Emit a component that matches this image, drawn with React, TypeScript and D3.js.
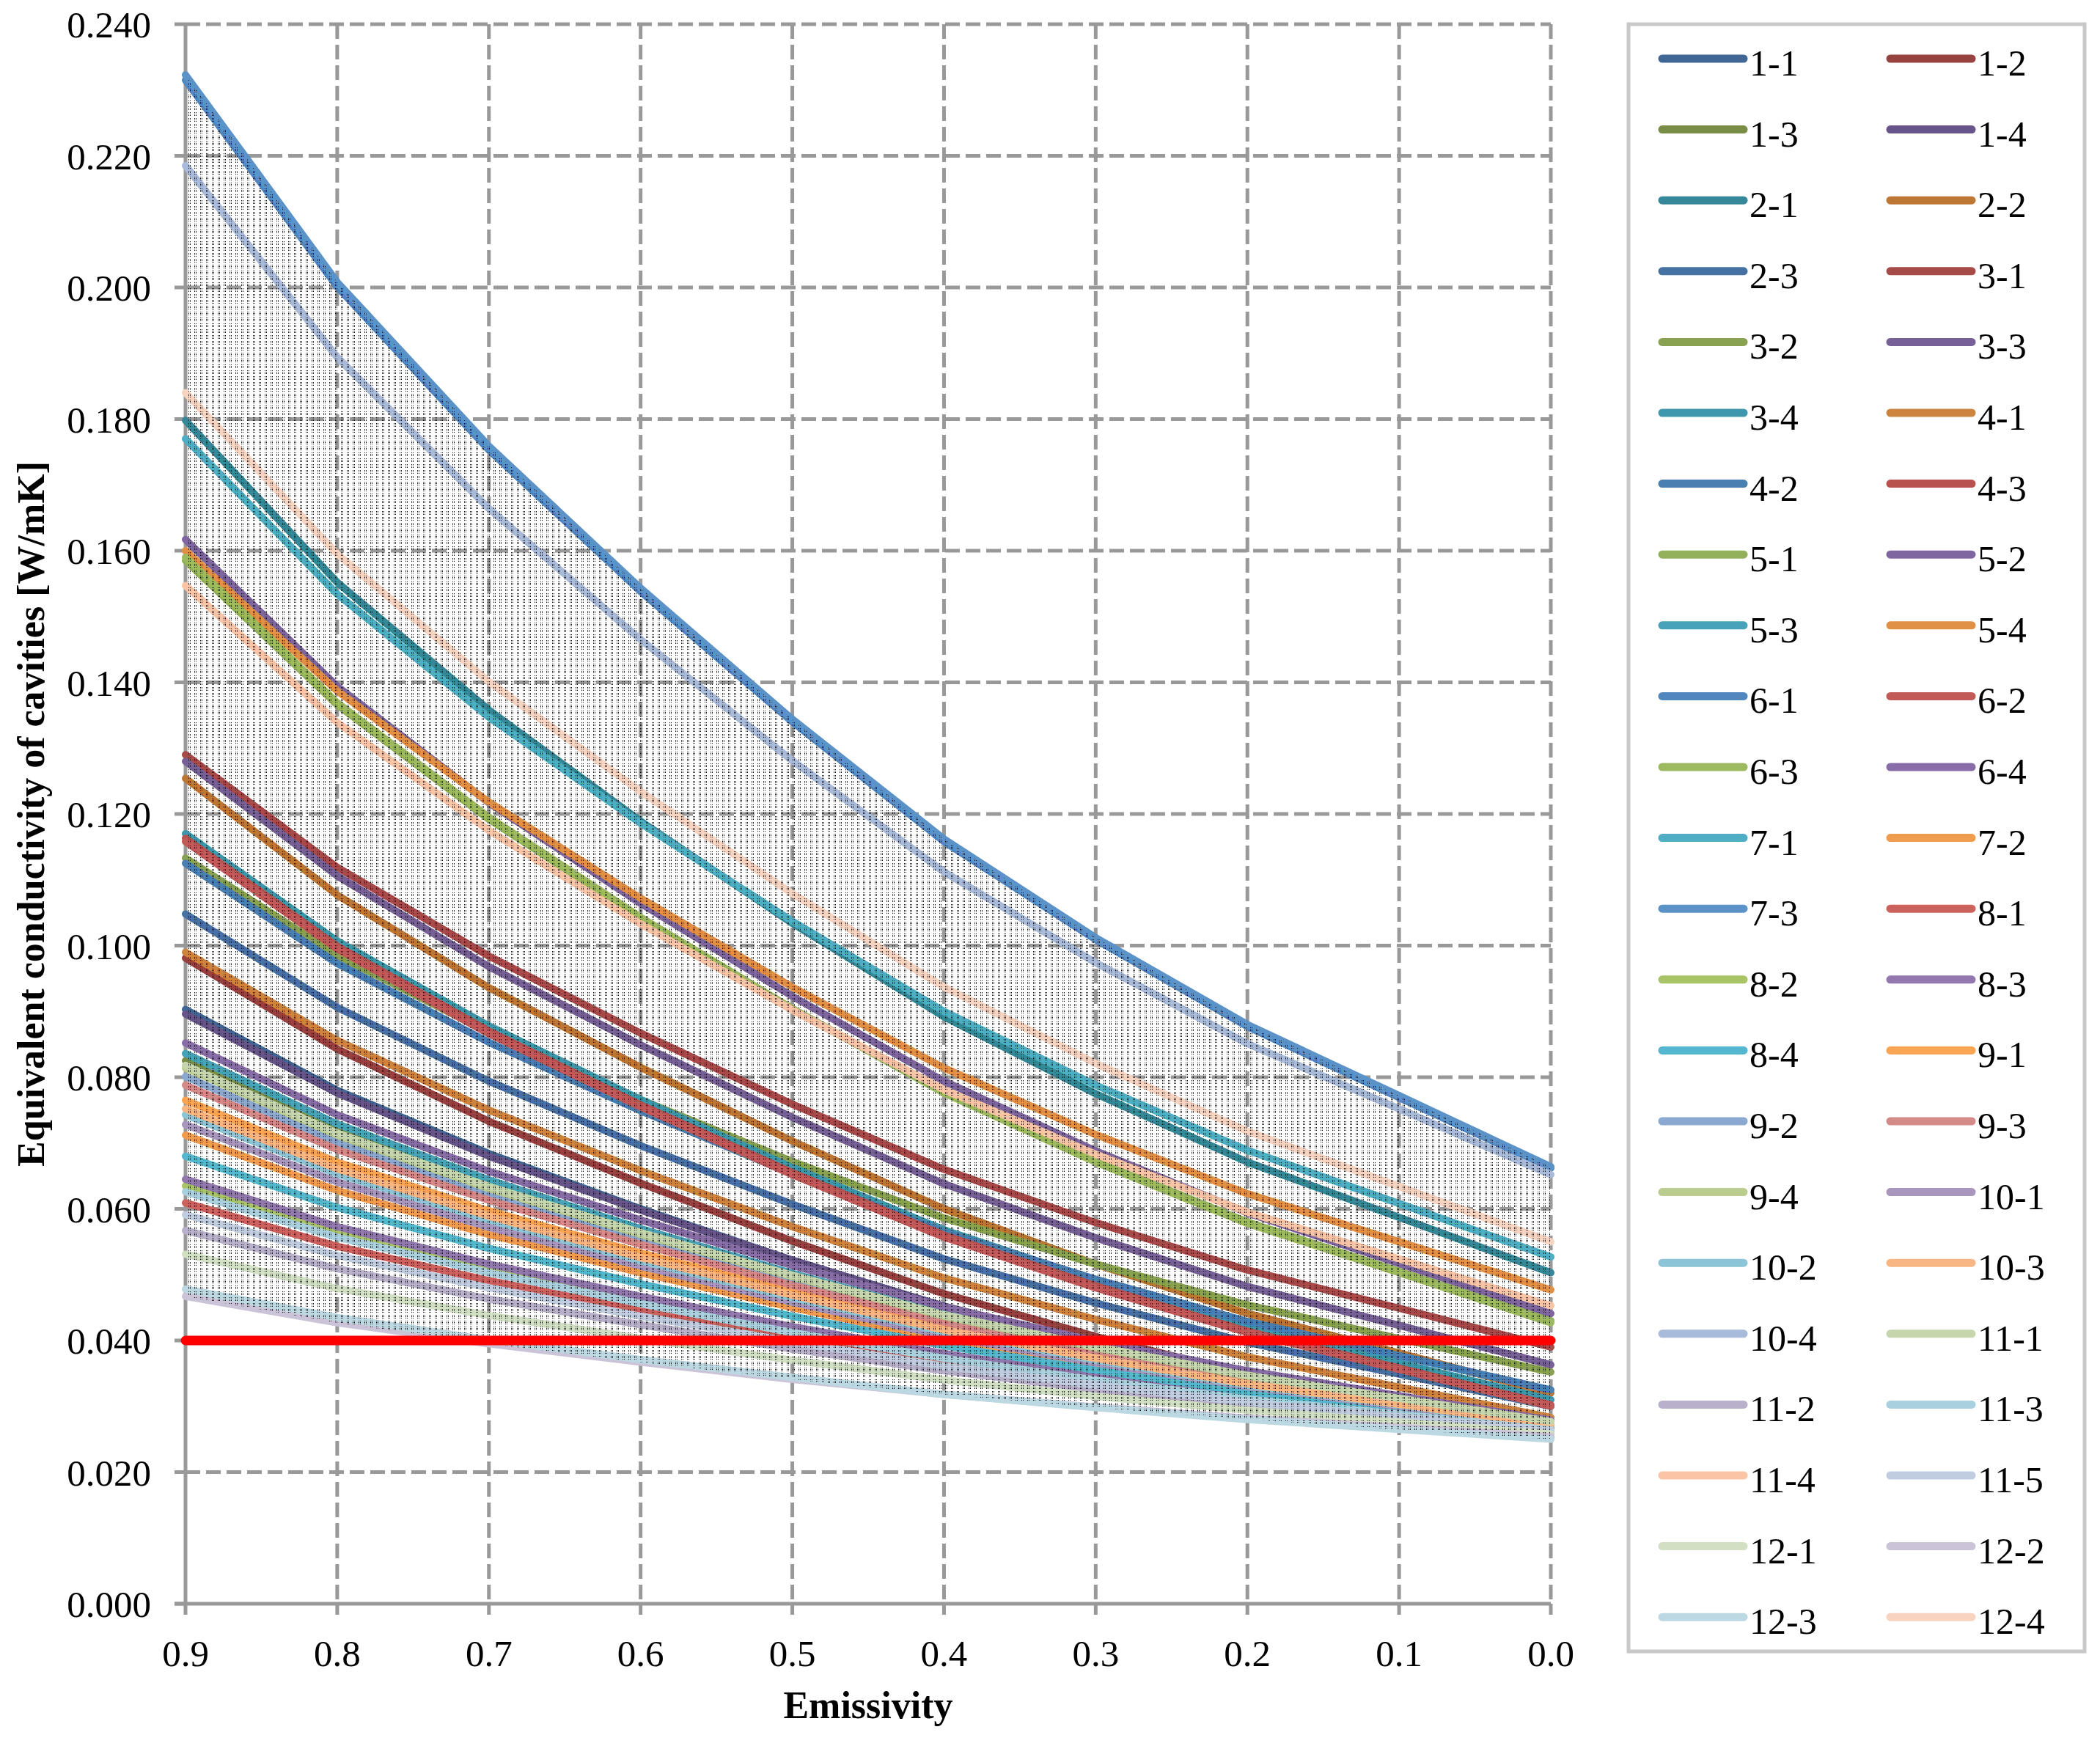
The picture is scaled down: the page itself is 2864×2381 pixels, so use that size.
import * as d3 from 'd3'

// emissivity steps, read left to right as on the axis
const emissivity = [0.9, 0.8, 0.7, 0.6, 0.5, 0.4, 0.3, 0.2, 0.1, 0.0]
const yTicks = [0, 0.02, 0.04, 0.06, 0.08, 0.1, 0.12, 0.14, 0.16, 0.18, 0.2, 0.22, 0.24]
const limitValue = 0.04

const seriesNames = [
  '1-1', '1-2', '1-3', '1-4', '2-1', '2-2', '2-3', '3-1', '3-2', '3-3', '3-4', '4-1',
  '4-2', '4-3', '5-1', '5-2', '5-3', '5-4', '6-1', '6-2', '6-3', '6-4', '7-1', '7-2',
  '7-3', '8-1', '8-2', '8-3', '8-4', '9-1', '9-2', '9-3', '9-4', '10-1', '10-2', '10-3',
  '10-4', '11-1', '11-2', '11-3', '11-4', '11-5', '12-1', '12-2', '12-3', '12-4',
]

const seriesColors = [
  '#3f6694', '#96423f', '#7a8d47', '#66548a', '#37879b', '#bd7734', '#4572a2', '#a64b47',
  '#89a252', '#775f97', '#3e97ad', '#cd843e', '#4a7fb1', '#b7524f', '#93b05a', '#8066a0',
  '#48a3ba', '#e19145', '#5087bf', '#c15b57', '#9eba61', '#896da8', '#4faec6', '#f09c4e',
  '#5b92c8', '#cc625c', '#a8c466', '#9278af', '#55b6cf', '#f9a553', '#8ba9d0', '#d48b88',
  '#bacd8f', '#a896be', '#8bc5d7', '#f9b685', '#a9bbda', '#c6d6ac', '#b9b0cb', '#a9d0df',
  '#fbc4a4', '#c0cde1', '#d1dfc2', '#cbc4d9', '#bcd9e3', '#f8d3bf',
]

const k1_1 = [0.0903, 0.078, 0.0684, 0.06, 0.0522, 0.0452, 0.0393, 0.0342, 0.03, 0.0258]
const k1_2 = [0.0981, 0.0843, 0.0733, 0.0639, 0.0551, 0.0471, 0.0406, 0.0348, 0.03, 0.0253]
const k1_3 = [0.0825, 0.0721, 0.0638, 0.0567, 0.0501, 0.044, 0.0391, 0.0347, 0.0311, 0.0275]
const k1_4 = [0.0896, 0.0776, 0.068, 0.0598, 0.0522, 0.0452, 0.0395, 0.0344, 0.0303, 0.0262]
const k2_1 = [0.1798, 0.1552, 0.1358, 0.1189, 0.1034, 0.0892, 0.0775, 0.0671, 0.0587, 0.0503]
const k2_2 = [0.1254, 0.1077, 0.0936, 0.0815, 0.0703, 0.06, 0.0516, 0.0441, 0.0381, 0.032]
const k2_3 = [0.1048, 0.0906, 0.0794, 0.0696, 0.0607, 0.0524, 0.0457, 0.0397, 0.0349, 0.03]
const k3_1 = [0.129, 0.1119, 0.0984, 0.0867, 0.0759, 0.066, 0.0579, 0.0507, 0.0449, 0.039]
const k3_2 = [0.1133, 0.0985, 0.0868, 0.0766, 0.0672, 0.0586, 0.0516, 0.0454, 0.0403, 0.0352]
const k3_3 = [0.128, 0.1106, 0.0968, 0.0849, 0.0739, 0.0638, 0.0556, 0.0482, 0.0423, 0.0363]
const k3_4 = [0.117, 0.1007, 0.0878, 0.0766, 0.0663, 0.0568, 0.0491, 0.0422, 0.0366, 0.031]
const k4_1 = [0.099, 0.0856, 0.075, 0.0658, 0.0573, 0.0495, 0.0432, 0.0375, 0.0329, 0.0283]
const k4_2 = [0.1125, 0.0973, 0.0853, 0.0749, 0.0653, 0.0565, 0.0493, 0.0429, 0.0377, 0.0325]
const k4_3 = [0.1163, 0.0999, 0.087, 0.0758, 0.0655, 0.056, 0.0483, 0.0414, 0.0358, 0.0302]
const k5_1 = [0.1585, 0.1366, 0.1192, 0.1042, 0.0904, 0.0777, 0.0673, 0.058, 0.0505, 0.043]
const k5_2 = [0.1617, 0.1394, 0.1217, 0.1064, 0.0923, 0.0794, 0.0688, 0.0594, 0.0517, 0.0441]
const k5_3 = [0.0836, 0.0729, 0.0644, 0.057, 0.0502, 0.044, 0.0389, 0.0344, 0.0307, 0.027]
const k5_4 = [0.16, 0.1387, 0.1218, 0.1072, 0.0937, 0.0814, 0.0713, 0.0623, 0.055, 0.0477]
const k6_1 = [0.2315, 0.2001, 0.1753, 0.1538, 0.134, 0.1158, 0.1009, 0.0877, 0.0769, 0.0662]
const k6_2 = [0.1158, 0.0995, 0.0866, 0.0755, 0.0652, 0.0557, 0.048, 0.0412, 0.0356, 0.03]
const k6_3 = [0.159, 0.1369, 0.1195, 0.1043, 0.0904, 0.0776, 0.0671, 0.0578, 0.0503, 0.0427]
const k6_4 = [0.0852, 0.0743, 0.0657, 0.0583, 0.0514, 0.0451, 0.0399, 0.0354, 0.0316, 0.0279]
const k7_1 = [0.177, 0.1534, 0.1347, 0.1186, 0.1037, 0.09, 0.0788, 0.0689, 0.0608, 0.0527]
const k7_2 = [0.0712, 0.0628, 0.0561, 0.0503, 0.045, 0.0401, 0.0361, 0.0326, 0.0297, 0.0268]
const k7_3 = [0.2323, 0.2008, 0.1759, 0.1543, 0.1344, 0.1162, 0.1012, 0.088, 0.0772, 0.0664]
const k8_1 = [0.0609, 0.0543, 0.0491, 0.0446, 0.0404, 0.0366, 0.0335, 0.0307, 0.0285, 0.0262]
const k8_2 = [0.0635, 0.0565, 0.0509, 0.0461, 0.0417, 0.0376, 0.0343, 0.0313, 0.0289, 0.0265]
const k8_3 = [0.0645, 0.0573, 0.0516, 0.0467, 0.0421, 0.038, 0.0346, 0.0315, 0.0291, 0.0266]
const k8_4 = [0.068, 0.0602, 0.054, 0.0486, 0.0437, 0.0392, 0.0355, 0.0322, 0.0295, 0.0268]
const k9_1 = [0.0765, 0.0671, 0.0597, 0.0533, 0.0474, 0.042, 0.0376, 0.0336, 0.0304, 0.0272]
const k9_2 = [0.0801, 0.0701, 0.0622, 0.0554, 0.0491, 0.0433, 0.0386, 0.0343, 0.0309, 0.0275]
const k9_3 = [0.0788, 0.069, 0.0613, 0.0546, 0.0484, 0.0428, 0.0381, 0.034, 0.0307, 0.0273]
const k9_4 = [0.0814, 0.0712, 0.0631, 0.0561, 0.0497, 0.0437, 0.0389, 0.0346, 0.0311, 0.0276]
const k10_1 = [0.0728, 0.0641, 0.0572, 0.0513, 0.0458, 0.0407, 0.0366, 0.033, 0.03, 0.027]
const k10_2 = [0.0743, 0.0653, 0.0583, 0.0521, 0.0465, 0.0413, 0.037, 0.0332, 0.0302, 0.0271]
const k10_3 = [0.0752, 0.0661, 0.0589, 0.0526, 0.0469, 0.0416, 0.0373, 0.0334, 0.0303, 0.0272]
const k10_4 = [0.2185, 0.1894, 0.1664, 0.1465, 0.1281, 0.1112, 0.0974, 0.0851, 0.0752, 0.0652]
const k11_1 = [0.0818, 0.0715, 0.0634, 0.0564, 0.0499, 0.0439, 0.0391, 0.0347, 0.0312, 0.0277]
const k11_2 = [0.0567, 0.0509, 0.0463, 0.0424, 0.0387, 0.0354, 0.0326, 0.0302, 0.0282, 0.0262]
const k11_3 = [0.0626, 0.0557, 0.0503, 0.0456, 0.0412, 0.0373, 0.034, 0.0311, 0.0288, 0.0264]
const k11_4 = [0.1547, 0.1339, 0.1175, 0.1033, 0.0902, 0.0781, 0.0683, 0.0595, 0.0524, 0.0453]
const k11_5 = [0.0591, 0.0529, 0.048, 0.0437, 0.0398, 0.0361, 0.0332, 0.0306, 0.0284, 0.0263]
const k12_1 = [0.0531, 0.0479, 0.0438, 0.0403, 0.037, 0.034, 0.0315, 0.0294, 0.0276, 0.0258]
const k12_2 = [0.0467, 0.0427, 0.0395, 0.0367, 0.0341, 0.0318, 0.0299, 0.0282, 0.0268, 0.0254]
const k12_3 = [0.0478, 0.0435, 0.0401, 0.0371, 0.0344, 0.0318, 0.0298, 0.028, 0.0265, 0.025]
const k12_4 = [0.184, 0.1595, 0.1401, 0.1234, 0.1079, 0.0937, 0.0821, 0.0718, 0.0634, 0.055]

const seriesValues = [
  k1_1, k1_2, k1_3, k1_4, k2_1, k2_2, k2_3, k3_1, k3_2, k3_3, k3_4, k4_1,
  k4_2, k4_3, k5_1, k5_2, k5_3, k5_4, k6_1, k6_2, k6_3, k6_4, k7_1, k7_2,
  k7_3, k8_1, k8_2, k8_3, k8_4, k9_1, k9_2, k9_3, k9_4, k10_1, k10_2, k10_3,
  k10_4, k11_1, k11_2, k11_3, k11_4, k11_5, k12_1, k12_2, k12_3, k12_4,
]

const width = 2864
const height = 2381
const plotLeft = 253
const plotRight = 2115
const plotTop = 33
const plotBottom = 2187
const serif = '"Liberation Serif", "Times New Roman", serif'
const gridColor = '#999999'

export default function App() {
  const x = d3.scaleLinear().domain([0.9, 0]).range([plotLeft, plotRight])
  const y = d3.scaleLinear().domain([0, 0.24]).range([plotBottom, plotTop])

  const line = d3
    .line<number>()
    .x((_, i) => x(emissivity[i]))
    .y((d) => y(d))

  // shaded band between the lowest and the highest curve
  const band = d3
    .area<number>()
    .x((e) => x(e))
    .y0((_, i) => y(d3.min(seriesValues, (s) => s[i]) as number))
    .y1((_, i) => y(d3.max(seriesValues, (s) => s[i]) as number))

  const xGrid = emissivity.slice(1)
  const yGrid = yTicks.slice(1)

  const legendTop = 80
  const legendStep = 96.6
  const legendCols = [2267, 2578]
  const legendLine = 111

  return (
    <svg
      width={width}
      height={height}
      viewBox={`0 0 ${width} ${height}`}
      style={{ position: 'absolute', left: 0, top: 0, background: '#fff' }}
    >
      <defs>
        <pattern id="band-dots" width="8" height="8" patternUnits="userSpaceOnUse">
          <rect x="1" y="1" width="1" height="1" fill="#000" />
          <rect x="3" y="1" width="1" height="1" fill="#000" />
          <rect x="1" y="3" width="1" height="1" fill="#000" />
          <rect x="3" y="3" width="1" height="1" fill="#000" />
          <rect x="1" y="5" width="1" height="1" fill="#000" />
          <rect x="3" y="5" width="1" height="1" fill="#000" />
        </pattern>
      </defs>

      <rect x={0} y={0} width={width} height={height} fill="#fff" />

      {/* dashed grid */}
      {yGrid.map((t) => (
        <line
          key={`gy-${t}`}
          x1={plotLeft}
          x2={plotRight}
          y1={y(t)}
          y2={y(t)}
          stroke={gridColor}
          strokeWidth={5}
          strokeDasharray="20 8"
        />
      ))}
      {xGrid.map((t) => (
        <line
          key={`gx-${t}`}
          x1={x(t)}
          x2={x(t)}
          y1={plotTop}
          y2={plotBottom}
          stroke={gridColor}
          strokeWidth={5}
          strokeDasharray="20 8"
        />
      ))}

      {/* axes and tick marks */}
      <line x1={plotLeft} x2={plotLeft} y1={plotTop} y2={plotBottom} stroke={gridColor} strokeWidth={5} />
      <line x1={plotLeft - 15} x2={plotRight} y1={plotBottom} y2={plotBottom} stroke={gridColor} strokeWidth={5} />
      {yTicks.map((t) => (
        <line key={`ty-${t}`} x1={plotLeft - 15} x2={plotLeft} y1={y(t)} y2={y(t)} stroke={gridColor} strokeWidth={5} />
      ))}
      {emissivity.map((t) => (
        <line key={`tx-${t}`} x1={x(t)} x2={x(t)} y1={plotBottom} y2={plotBottom + 15} stroke={gridColor} strokeWidth={5} />
      ))}

      {/* tick labels */}
      {yTicks.map((t) => (
        <text
          key={`ly-${t}`}
          x={206}
          y={y(t) + 18}
          textAnchor="end"
          fontFamily={serif}
          fontSize={51}
          fill="#000"
        >
          {d3.format('.3f')(t)}
        </text>
      ))}
      {emissivity.map((t) => (
        <text
          key={`lx-${t}`}
          x={x(t)}
          y={2272}
          textAnchor="middle"
          fontFamily={serif}
          fontSize={51}
          fill="#000"
        >
          {d3.format('.1f')(t)}
        </text>
      ))}

      {/* series */}
      {seriesValues.map((values, i) => (
        <path
          key={seriesNames[i]}
          d={line(values) ?? ''}
          fill="none"
          stroke={seriesColors[i]}
          strokeWidth={10}
          strokeLinejoin="round"
          strokeLinecap="round"
        />
      ))}

      <path d={band(emissivity) ?? ''} fill="url(#band-dots)" stroke="none" />

      <line
        x1={x(emissivity[0])}
        x2={x(emissivity[emissivity.length - 1])}
        y1={y(limitValue)}
        y2={y(limitValue)}
        stroke="#ff0000"
        strokeWidth={13}
        strokeLinecap="round"
      />

      {/* axis titles */}
      <text
        x={(plotLeft + plotRight) / 2}
        y={2343}
        textAnchor="middle"
        fontFamily={serif}
        fontWeight="bold"
        fontSize={52}
        fill="#000"
      >
        Emissivity
      </text>
      <text
        transform={`translate(60, ${(plotTop + plotBottom) / 2}) rotate(-90)`}
        textAnchor="middle"
        fontFamily={serif}
        fontWeight="bold"
        fontSize={52}
        fill="#000"
      >
        Equivalent conductivity of cavities [W/mK]
      </text>

      {/* legend */}
      <rect x={2221} y={33} width={622} height={2219} fill="#fff" stroke="#c8c8c8" strokeWidth={5} />
      {seriesNames.map((name, i) => {
        const col = i % 2
        const row = Math.floor(i / 2)
        const ly = legendTop + row * legendStep
        const lx = legendCols[col]
        return (
          <g key={`leg-${name}`}>
            <line
              x1={lx}
              x2={lx + legendLine}
              y1={ly}
              y2={ly}
              stroke={seriesColors[i]}
              strokeWidth={11}
              strokeLinecap="round"
            />
            <text x={lx + legendLine + 8} y={ly + 23} fontFamily={serif} fontSize={50} fill="#000">
              {name}
            </text>
          </g>
        )
      })}
    </svg>
  )
}
